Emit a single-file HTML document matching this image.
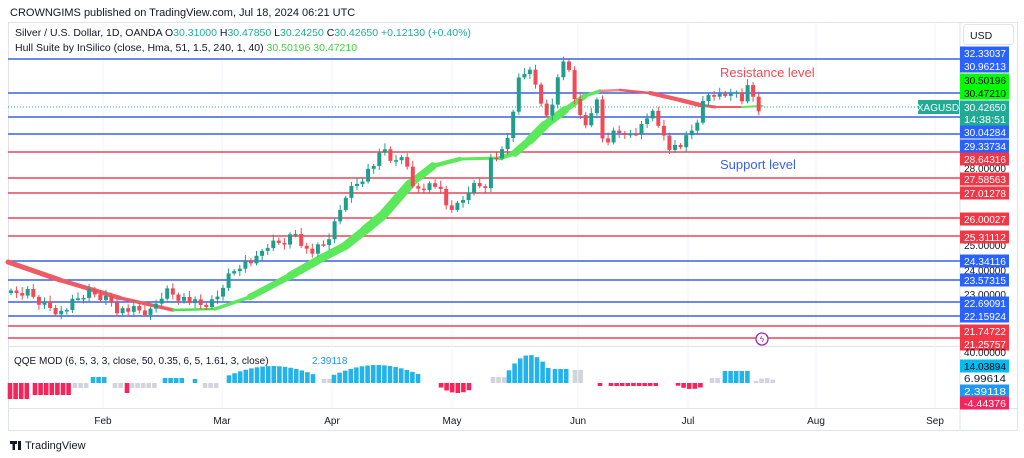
<!DOCTYPE html>
<html><head><meta charset="utf-8">
<style>
body{margin:0;background:#fff;width:1024px;height:458px;overflow:hidden;font-family:"Liberation Sans",sans-serif}
svg{position:absolute;left:0;top:0}
</style></head><body>
<svg id="s" width="1024" height="458" xmlns="http://www.w3.org/2000/svg" font-family="Liberation Sans, sans-serif"></svg>
<script>
const S=document.getElementById('s');let h='';
function R(x,y,w,hh,c){h+=`<rect x="${x}" y="${y}" width="${w}" height="${hh}" fill="${c}"/>`;}
function L(x1,y1,x2,y2,c,w,extra){h+=`<line x1="${x1}" y1="${y1}" x2="${x2}" y2="${y2}" stroke="${c}" stroke-width="${w}" ${extra||''}/>`;}
function T(x,y,t,c,s,a,extra){h+=`<text x="${x}" y="${y}" fill="${c}" font-size="${s}" text-anchor="${a||'start'}" ${extra||''}>${t}</text>`;}
R(8,22,1010,408,'#fff');
h+=`<rect x="8.5" y="22.5" width="1009" height="408" fill="none" stroke="#e0e3eb"/>`;
L(960,22,960,430,'#e0e3eb',1);
L(8,346.5,960,346.5,'#e0e3eb',1);L(8,408.5,1018,408.5,'#e0e3eb',1);
const months=[[103,'Feb'],[222,'Mar'],[332,'Apr'],[452,'May'],[578,'Jun'],[688,'Jul'],[816,'Aug'],[935,'Sep']];
months.forEach(m=>{L(m[0],22,m[0],408,'#f0f3fa',1);T(m[0],424,m[1],'#131722',10,'middle');});
const B='#3a62e6',Rd='#e9475a';
const lv=[[59,B],[93,B],[117,B],[134,B],[152,Rd],[178,Rd],[193,Rd],[218,Rd],[236,Rd],[261,B],[280,B],[302,B],[316,B],[326,Rd],[338,Rd]];
lv.forEach(l=>L(8,l[0],960,l[0],l[1],1.6));
L(8,107,960,107,'#22ab94',1,'stroke-dasharray="1,2"');
const hull=[[8,262,5,'#ef5a64'],[60,280,5,'#ef5a64'],[120,298,4,'#ef5a64'],[173,310,3,'#ef5a64'],[215,309,2,'#4ee04e'],[250,297,5,'#5be85b'],[290,276,8,'#5be85b'],[320,259,8,'#5be85b'],[345,246,8,'#5be85b'],[365,230,9,'#5be85b'],[383,215,10,'#5be85b'],[410,184,9,'#5be85b'],[433,166,6,'#5be85b'],[460,159,3,'#5be85b'],[500,158,3,'#5be85b'],[515,153,6,'#5be85b'],[530,140,9,'#5be85b'],[545,125,9,'#5be85b'],[565,110,7,'#5be85b'],[585,96,4,'#5be85b'],[600,91,3,'#5be85b'],[620,90,2,'#f08a8a'],[650,93,3,'#ef5a64'],[680,100,5,'#ef5a64'],[700,105,4,'#ef5a64'],[715,107,2,'#ef5a64'],[742,107,2,'#ef5a64'],[762,106,2,'#5be85b']];
for(let i=0;i<hull.length-1;i++){const a=hull[i],b=hull[i+1];L(a[0],a[1],b[0],b[1],b[3],(a[2]+b[2])/2,'stroke-linecap="round"');}
const kp=[[11,295],[27,292],[40,302],[62,313],[70,305],[88,292],[110,300],[118,310],[130,310],[150,313],[165,290],[180,297],[200,306],[215,302],[225,280],[240,264],[258,260],[265,246],[283,242],[297,232],[305,250],[312,252],[325,245],[337,220],[345,195],[360,180],[373,165],[385,150],[395,165],[405,153],[413,190],[425,185],[437,185],[447,208],[460,206],[470,186],[485,185],[490,160],[505,152],[510,127],[518,82],[526,72],[530,66],[537,93],[545,112],[552,108],[557,77],[563,66],[568,66],[572,86],[577,106],[583,130],[590,118],[595,86],[601,137],[607,139],[612,134],[618,128],[623,141],[630,135],[637,131],[641,128],[646,124],[651,99],[657,128],[662,130],[668,145],[674,147],[680,146],[686,140],[690,133],[696,128],[700,104],[705,105],[711,88],[717,98],[722,95],[727,95],[733,86],[738,98],[743,100],[750,84],[756,110],[762,107]];
function interp(x){for(let i=0;i<kp.length-1;i++){if(x<=kp[i+1][0]){const a=kp[i],b=kp[i+1];return a[1]+(b[1]-a[1])*(x-a[0])/(b[0]-a[0]);}}return kp[kp.length-1][1];}
let prev=293;
for(let i=0;;i++){const x=11+i*5.58;if(x>763)break;
 const n=((i*37)%11-5)*0.9;
 const c=interp(x)+n,o=prev;const up=c<o;const col=up?'#1f9e8c':'#ef4a55';
 const hi=Math.min(o,c)-2-(i*7%5),lo=Math.max(o,c)+2+(i*3%4);
 L(x.toFixed(1),hi,x.toFixed(1),lo,col,1);R((x-2).toFixed(1),Math.min(o,c),4,Math.max(1.5,Math.abs(o-c)),col);prev=c;}
const q=[];const zero=383;
function seg(x1,x2,col,peak,shape){for(let x=x1;x<=x2;x+=5.6){let t=(x-x1)/Math.max(1,(x2-x1));let v=shape?peak*Math.sin(Math.PI*(0.15+0.7*t)):peak;q.push([x,v,col]);}}
const BL='#22b3ea',GR='#d1d4dc',PK='#f7235b';
seg(10,30,PK,-16,0);seg(35,70,PK,-12,0);seg(75,88,GR,-5,0);seg(93,105,BL,6,0);seg(115,124,GR,-5,0);seg(127,127,PK,-10,0);seg(132,155,GR,-5,0);seg(165,185,BL,5,0);seg(195,195,BL,4,0);seg(205,220,GR,-5,0);
seg(229,316,BL,17,1);seg(324,330,GR,4,0);seg(334,420,BL,18,1);seg(441,474,PK,-10,1);seg(493,505,GR,6,0);seg(509,550,BL,28,1);seg(555,570,BL,14,0);seg(575,583,GR,13,0);seg(600,600,PK,-3,0);seg(611,660,PK,-3,0);seg(678,705,PK,-6,1);seg(712,722,GR,5,0);seg(725,752,BL,12,0);seg(756,775,GR,5,1);
q.forEach(b=>{const v=b[1];R(b[0]-2.3,v>0?zero-v:zero,4.6,Math.abs(v),b[2]);});
T(10,16,'CROWNGIMS published on TradingView.com, Jul 18, 2024 06:21 UTC','#131722',11);
T(15,36,'Silver / U.S. Dollar, 1D, OANDA  O<tspan fill="#22ab94">30.31000</tspan>  H<tspan fill="#22ab94">30.47850</tspan>  L<tspan fill="#22ab94">30.24250</tspan>  C<tspan fill="#22ab94">30.42650</tspan>  <tspan fill="#22ab94">+0.12130 (+0.40%)</tspan>','#131722',10.5);
T(15,51,'Hull Suite by InSilico (close, Hma, 51, 1.5, 240, 1, 40)  <tspan fill="#3ed33e">30.50196</tspan>  <tspan fill="#3ed33e">30.47210</tspan>','#131722',10.5);
T(14,364,'QQE MOD (6, 5, 3, 3, close, 50, 0.35, 6, 5, 1.61, 3, close)','#131722',10);
T(312,364,'2.39118','#2196f3',10);
T(720,77,'Resistance level','#ef4a55',13);
T(720,169,'Support level','#3a62e6',13);
h+=`<circle cx="762" cy="339" r="6" fill="#fff" stroke="#9c27b0" stroke-width="1.3"/>`;T(762,342,'ϟ','#9c27b0',8,'middle');
R(918,100,41,14,'#22ab94');T(938,111,'XAGUSD','#fff',10,'middle');
h+=`<rect x="963.5" y="24.5" width="50" height="20" rx="3" fill="#fff" stroke="#e0e3eb"/>`;T(970,39,'USD','#131722',10.5);
const ax=[[53,'32.33037','#2962ff','#fff'],[66,'30.96213','#2962ff','#fff'],[80,'30.50196','#00ff00','#000'],[93,'30.47210','#00ff00','#000'],[107,'30.42650','#22ab94','#fff'],[119,'14:38:51','#22ab94','#fff'],[132,'30.04284','#2962ff','#fff'],[146,'29.33734','#2962ff','#fff'],[168,'28.00000',null,'#131722'],[159,'28.64316','#f23645','#fff'],[179,'27.58563','#f23645','#fff'],[193,'27.01278','#f23645','#fff'],[219,'26.00027','#f23645','#fff'],[245,'25.00000',null,'#131722'],[237,'25.31112','#f23645','#fff'],[270,'24.00000',null,'#131722'],[261,'24.34116','#2962ff','#fff'],[294,'23.00000',null,'#131722'],[280,'23.57315','#2962ff','#fff'],[303,'22.69091','#2962ff','#fff'],[316,'22.15924','#2962ff','#fff'],[331,'21.74722','#f23645','#fff'],[344,'21.25757','#f23645','#fff'],[352,'40.00000',null,'#131722'],[366,'14.03894','#00bcf2','#000'],[378,'6.99614',null,'#131722'],[391,'2.39118','#2196f3','#fff'],[403,'-4.44376','#f7235b','#fff']];
ax.forEach(a=>{if(a[2])R(960,a[0]-6.5,49,13,a[2]);T(964,a[0]+4,a[1],a[3],10,'start','textLength="42" lengthAdjust="spacingAndGlyphs"');});
R(10,441,7,3,'#131722');R(12.5,441,2.5,9,'#131722');R(18,441,3,9,'#131722');
T(25,449,'TradingView','#131722',11);
S.innerHTML=h;
</script>
</body></html>
